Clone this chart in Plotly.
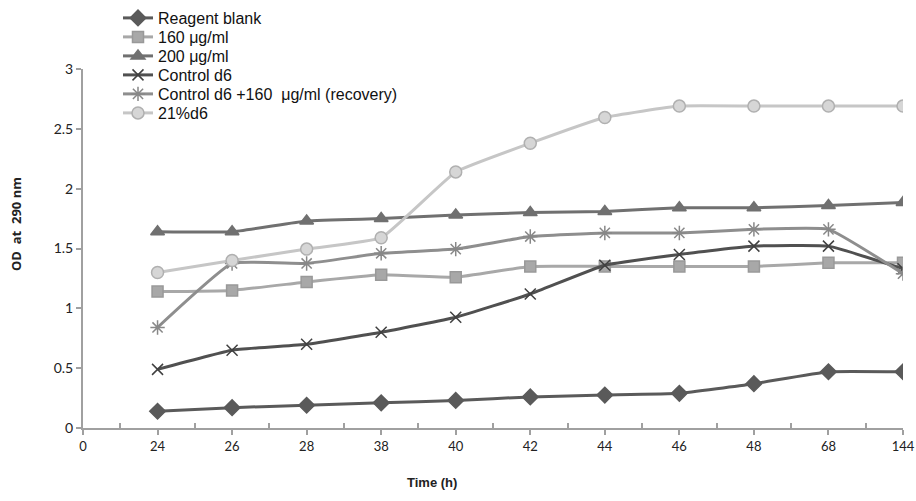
import plotly.graph_objects as go

time_labels = ["0", "24", "26", "28", "38", "40", "42", "44", "46", "48", "68", "144"]
data_times = ["24", "26", "28", "38", "40", "42", "44", "46", "48", "68", "144"]

reagent_blank = [0.14, 0.17, 0.19, 0.21, 0.23, 0.26, 0.275, 0.29, 0.37, 0.47, 0.47]
ug160 = [1.14, 1.15, 1.22, 1.28, 1.26, 1.35, 1.35, 1.35, 1.35, 1.38, 1.38]
ug200 = [1.64, 1.64, 1.73, 1.75, 1.78, 1.80, 1.81, 1.84, 1.84, 1.86, 1.885]
control_d6 = [0.49, 0.65, 0.70, 0.80, 0.925, 1.12, 1.36, 1.45, 1.52, 1.52, 1.33]
recovery = [0.84, 1.375, 1.375, 1.46, 1.495, 1.60, 1.63, 1.63, 1.66, 1.66, 1.29]
pct21_d6 = [1.30, 1.40, 1.495, 1.59, 2.14, 2.38, 2.595, 2.69, 2.69, 2.69, 2.69]

series_names = ["Reagent blank", "160 \u03bcg/ml", "200 \u03bcg/ml", "Control d6",
                "Control d6 +160  \u03bcg/ml (recovery)", "21%d6"]
series_values = [reagent_blank, ug160, ug200, control_d6, recovery, pct21_d6]

styles = [
    dict(color="#5a5a5a", symbol="diamond", size=12, fill="#5a5a5a", mline="#5a5a5a"),
    dict(color="#a8a8a8", symbol="square", size=11, fill="#a8a8a8", mline="#999999"),
    dict(color="#707070", symbol="triangle-up", size=12, fill="#707070", mline="#707070"),
    dict(color="#505050", symbol="x-thin", size=11, fill="#505050", mline="#404040"),
    dict(color="#8e8e8e", symbol="asterisk", size=12, fill="#8e8e8e", mline="#888888"),
    dict(color="#c6c6c6", symbol="circle", size=12, fill="#d6d6d6", mline="#b0b0b0"),
]

xpos = [time_labels.index(t) for t in data_times]

W, H = 916, 501
pl, pr, pt, pb = 83, 903, 69, 428  # plot area in pixels

fig = go.Figure()
legend_layouts = {}
for i, (name, vals, st) in enumerate(zip(series_names, series_values, styles)):
    lname = "legend" if i == 0 else f"legend{i + 1}"
    fig.add_trace(go.Scatter(
        x=xpos, y=vals, name=name, mode="lines+markers", legend=lname,
        line=dict(color=st["color"], width=3, shape="spline", smoothing=0.35),
        marker=dict(symbol=st["symbol"], size=st["size"], color=st["fill"],
                    line=dict(color=st["mline"], width=1.5)),
    ))
    legend_layouts[lname] = dict(
        x=118 / W, y=1 - (18 + 19 * i) / H, xref="container", yref="container",
        xanchor="left", yanchor="middle",
        font=dict(family="Liberation Sans, Arial", size=16, color="#111111"),
        bgcolor="rgba(0,0,0,0)", itemwidth=30,
    )

axis_col = "#a0a0a0"
fig.update_layout(
    width=W, height=H,
    margin=dict(l=pl, r=W - pr, t=pt, b=H - pb, autoexpand=False),
    paper_bgcolor="white", plot_bgcolor="white",
    showlegend=True,
    xaxis=dict(
        range=[0, 11], tickmode="array", tickvals=list(range(len(time_labels))),
        ticktext=time_labels, showgrid=False, zeroline=False, automargin=False,
        showline=True, linecolor=axis_col, linewidth=2,
        ticks="outside", ticklen=5, tickcolor=axis_col, tickwidth=1.5,
        tickfont=dict(family="Lato, Open Sans", size=13, color="#222222"),
        minor=dict(tickmode="array", tickvals=[i + 0.5 for i in range(11)],
                   ticks="inside", ticklen=5, tickcolor=axis_col, tickwidth=1.5),
    ),
    yaxis=dict(
        range=[0, 3], tickmode="array", tickvals=[0, 0.5, 1, 1.5, 2, 2.5, 3],
        ticktext=["0", "0.5", "1", "1.5", "2", "2.5", "3"],
        showgrid=False, zeroline=False, automargin=False,
        showline=True, linecolor=axis_col, linewidth=2,
        ticks="outside", ticklen=5, tickcolor=axis_col, tickwidth=1.5,
        tickfont=dict(family="Lato, Open Sans", size=14, color="#222222"),
    ),
    annotations=[
        dict(text="<b>Time (h)</b>",
             x=(432 - pl) / (pr - pl), y=(pb - 483) / (pb - pt), xref="paper", yref="paper",
             showarrow=False, xanchor="center", yanchor="middle",
             font=dict(family="Liberation Sans, Arial", size=13, color="#222222")),
        dict(text="<b>OD  at  290 nm</b>",
             x=(16 - pl) / (pr - pl), y=(pb - 224) / (pb - pt), xref="paper", yref="paper",
             showarrow=False, xanchor="center", yanchor="middle", textangle=-90,
             font=dict(family="Open Sans", size=13, color="#222222")),
    ],
    **legend_layouts,
)

fig.write_html(
    "out.html",
    config={"displayModeBar": False},
    post_script="document.body.style.margin='0';document.body.style.overflow='hidden';",
)
